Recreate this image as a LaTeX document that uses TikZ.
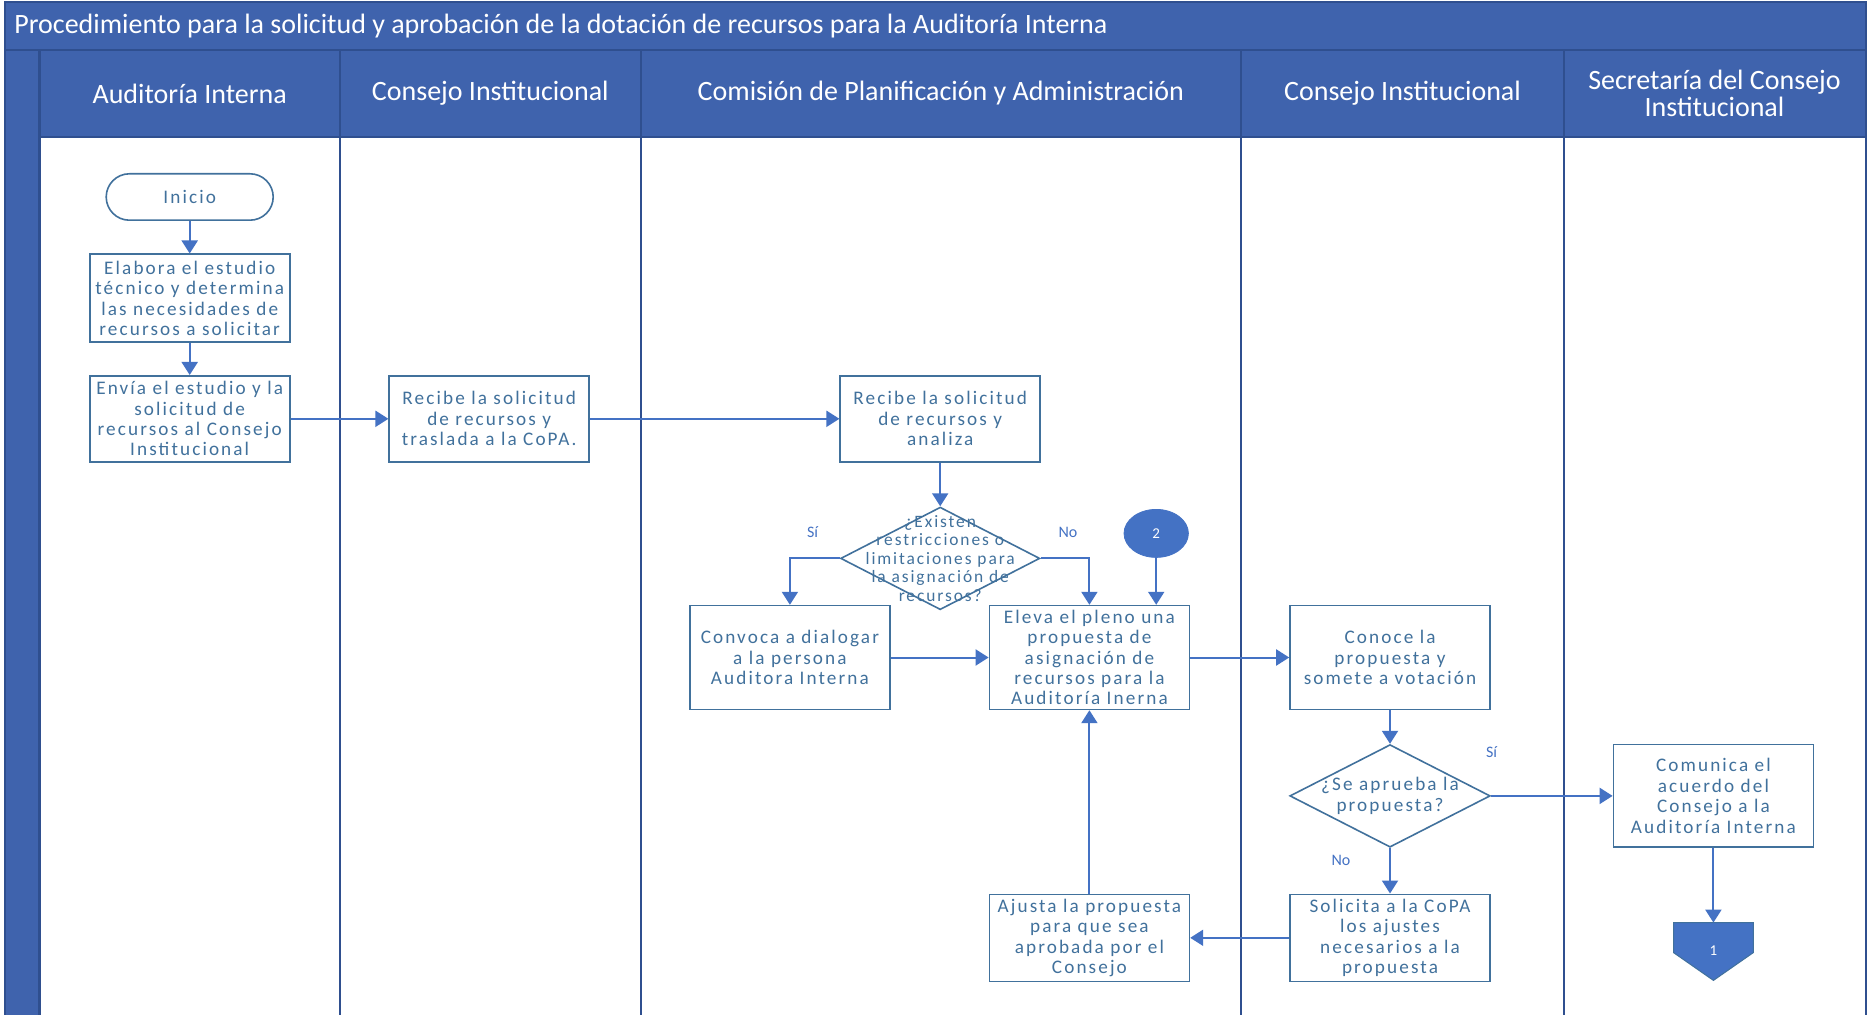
\documentclass[tikz,border=0pt]{standalone}
\usepackage{fontspec}
\setmainfont{Carlito}
\newfontfamily\bxfont[LetterSpace=11]{Carlito}
\usetikzlibrary{shapes.geometric,arrows.meta}
\definecolor{hdr}{HTML}{3F63AD}
\definecolor{lane}{HTML}{2F4F8F}
\definecolor{txt}{HTML}{41719C}
\definecolor{arr}{HTML}{4472C4}
\begin{document}
\begin{tikzpicture}[x=0.5pt,y=-0.5pt,
  box/.style={draw=txt, line width=0.8pt, fill=white, align=center, text=txt,
    font=\bxfont\fontsize{9.6}{10.2}\selectfont, inner sep=0pt, minimum width=100pt},
  term/.style={box, rounded corners=11.6pt, minimum width=83.5pt, minimum height=23.2pt},
  dia/.style={diamond, draw=txt, line width=0.8pt, fill=white, inner sep=0pt, aspect=2},
  dtext/.style={align=center, text=txt, font=\bxfont\fontsize{8.7}{9.2}\selectfont, inner sep=0pt},
  flow/.style={draw=arr, line width=1pt, -{Triangle[length=6.5pt,width=8pt]}},
  lbl/.style={text=arr, font=\fontsize{8}{9}\selectfont, inner sep=0pt},
  htext/.style={text=white, font=\fontsize{14}{16}\selectfont, align=center, inner sep=0pt},
  lanel/.style={draw=lane, line width=1.1pt}
]
\useasboundingbox (0,0) rectangle (1871,1015);
\clip (0,0) rectangle (1871,1015);
% pool
\fill[white] (0,0) rectangle (1871,1015);
\fill[hdr] (5,2) rectangle (1866,50);
\fill[hdr] (5,50) rectangle (39.4,1020);
\fill[hdr] (39.4,50) rectangle (1866,137);
\draw[lanel] (5,2) rectangle (1866,1020);
\draw[lanel] (5,50) -- (1866,50);
\draw[lanel] (39.4,137) -- (1866,137);
\foreach \xx in {39.4,340,640.7,1241,1564}{\draw[lanel] (\xx,50) -- (\xx,1020);}
% titles
\node[htext, anchor=west] (title) at (14,26.5) {Procedimiento para la solicitud y aprobación de la dotación de recursos para la Auditoría Interna};
\node[htext] (h1) at (189.7,93.5) {Auditoría Interna};
\node[htext] (h2) at (490.3,93.5) {Consejo Institucional};
\node[htext] (h3) at (940.8,93.5) {Comisión de Planificación y Administración};
\node[htext] (h4) at (1402.5,93.5) {Consejo Institucional};
\node[htext, font=\fontsize{14}{12}\selectfont] (h5) at (1714.5,93.5) {Secretaría del Consejo\\Institucional};
% nodes
\node[term] (inicio) at (189.7,197) {Inicio};
\node[box, minimum height=44pt] (elabora) at (189.7,298.3) {Elabora el estudio\\técnico y determina\\las necesidades de\\recursos a solicitar};
\node[box, minimum height=43pt] (envia) at (189.7,418.8) {Envía el estudio y la\\solicitud de\\recursos al Consejo\\Institucional};
\node[box, minimum height=43pt] (recibe1) at (489.2,418.8) {Recibe la solicitud\\de recursos y\\traslada a la CoPA.};
\node[box, minimum height=43pt] (recibe2) at (940.2,418.8) {Recibe la solicitud\\de recursos y\\analiza};
\node[dia, minimum width=99.6pt, minimum height=51.3pt] (d1) at (940.2,558.4) {};
\node[dtext] (d1t) at (940.2,558.4) {¿Existen\\restricciones o\\limitaciones para\\la asignación de\\recursos?};
\node[lbl] (si1) at (812.6,532.2) {Sí};
\node[lbl] (no1) at (1067.9,532.2) {No};
\node[ellipse, fill=arr, draw=arr, minimum width=32.2pt, minimum height=24pt, inner sep=0pt, text=white, font=\fontsize{7.5}{9}\selectfont] (c2) at (1156.2,533.4) {2};
\node[box, minimum height=51.9pt] (convoca) at (789.9,657.5) {Convoca a dialogar\\a la persona\\Auditora Interna};
\node[box, minimum height=51.9pt] (eleva) at (1089.4,657.5) {Eleva el pleno una\\propuesta de\\asignación de\\recursos para la\\Auditoría Inerna};
\node[box, minimum height=51.9pt] (conoce) at (1390,657.5) {Conoce la\\propuesta y\\somete a votación};
\node[dia, minimum width=100.2pt, minimum height=51.3pt] (d2) at (1390,795.9) {};
\node[dtext, font=\bxfont\fontsize{9.6}{10.2}\selectfont] (d2t) at (1390,795.9) {¿Se aprueba la\\propuesta?};
\node[lbl] (si2) at (1491.5,751.7) {Sí};
\node[lbl] (no2) at (1341,860.3) {No};
\node[box, minimum height=51.3pt] (comunica) at (1713.4,795.9) {Comunica el\\acuerdo del\\Consejo a la\\Auditoría Interna};
\node[box, minimum height=43.5pt] (solicita) at (1390,937.8) {Solicita a la CoPA\\los ajustes\\necesarios a la\\propuesta};
\node[box, minimum height=43.5pt] (ajusta) at (1089.4,937.8) {Ajusta la propuesta\\para que sea\\aprobada por el\\Consejo};
% off-page connector
\node[minimum width=39.5pt, minimum height=28.5pt, inner sep=0pt] (op1) at (1713.4,951.5) {};
\fill[arr, draw=txt, line width=0.5pt] (op1.north west) -- (op1.north east) -- ([yshift=-15pt]op1.north east) -- (op1.south) -- ([yshift=-15pt]op1.north west) -- cycle;
\node[text=white, font=\fontsize{7.5}{9}\selectfont, inner sep=0pt] (op1t) at ([yshift=-14pt]op1.north) {1};
% connectors
\draw[flow] (inicio) -- (elabora);
\draw[flow] (elabora) -- (envia);
\draw[flow] (envia) -- (recibe1);
\draw[flow] (recibe1) -- (recibe2);
\draw[flow] (recibe2) -- (d1);
\draw[flow] (d1.west) -| (convoca.north);
\draw[flow] (d1.east) -| (eleva.north);
\draw[flow] (c2.south) -- (c2.south |- eleva.north);
\draw[flow] (convoca) -- (eleva);
\draw[flow] (eleva) -- (conoce);
\draw[flow] (conoce) -- (d2);
\draw[flow] (d2.east) -- (comunica.west);
\draw[flow] (d2.south) -- (solicita.north);
\draw[flow] (solicita) -- (ajusta);
\draw[flow] (ajusta) -- (eleva);
\draw[flow] (comunica) -- (op1.north);
\end{tikzpicture}
\end{document}
